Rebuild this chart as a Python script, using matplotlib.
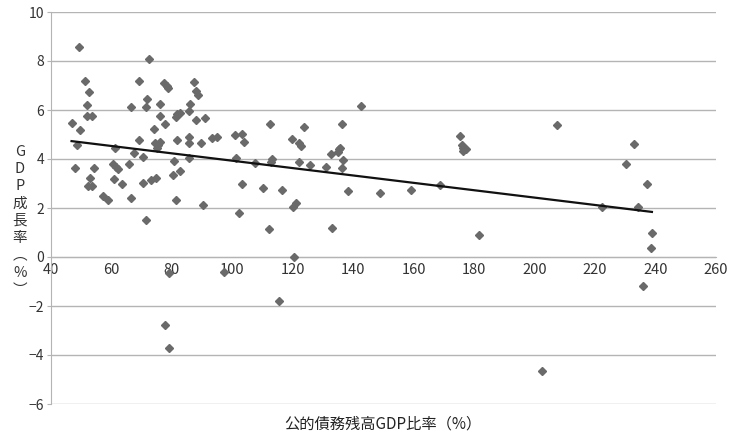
import numpy as np
import matplotlib
matplotlib.use("Agg")
import matplotlib.pyplot as plt

plt.rcParams['font.family'] = ['Noto Sans CJK JP', 'DejaVu Sans']

# debt-to-GDP ratio (%) and GDP growth (%)
debt = [
    49.4, 46.8, 49.5, 48.5, 47.8, 51.1, 52.7, 51.9, 52.0, 53.6,
    54.2, 52.9, 52.3, 53.4, 57.1, 58.9, 61.1, 60.4, 61.5, 62.2,
    60.7, 63.5, 65.7, 66.5, 67.4, 66.4, 69.0, 69.2, 70.6, 70.3,
    71.5, 71.9, 71.4, 72.3, 73.2, 74.7, 74.2, 74.4, 75.5, 75.0,
    76.0, 76.0, 76.0, 77.6, 77.5, 78.3, 78.7, 80.2, 80.7, 82.7,
    81.4, 81.6, 81.4, 81.8, 82.6, 85.7, 85.7, 85.7, 86.0, 85.5,
    87.3, 88.0, 88.5, 88.0, 89.6, 90.4, 90.9, 93.4, 94.8, 101.0,
    103.3, 103.8, 101.3, 103.2, 102.3, 107.5, 112.4, 113.1, 112.8, 110.2,
    116.5, 112.0, 119.8, 122.1, 122.7, 123.7, 122.1, 125.7, 120.2, 121.0,
    130.9, 132.5, 134.9, 135.4, 135.7, 136.4, 136.7, 136.2, 138.4, 132.8,
    142.6, 148.8, 159.1, 168.8, 175.3, 175.9, 176.4, 176.2, 177.3, 207.3,
    232.9, 230.1, 237.2, 222.2, 234.2, 120.4, 79.1, 97.3, 115.5, 77.8,
    78.9, 181.5, 238.8, 238.4, 235.7, 202.4,
]
growth = [
    8.56, 5.48, 5.18, 4.57, 3.62, 7.18, 6.72, 6.22, 5.76, 5.76,
    3.65, 3.21, 2.91, 2.91, 2.49, 2.33, 4.46, 3.81, 3.69, 3.59,
    3.17, 2.98, 3.81, 6.11, 4.24, 2.42, 4.76, 7.18, 4.09, 3.03,
    1.51, 6.46, 6.12, 8.09, 3.14, 3.21, 5.22, 4.64, 4.56, 4.46,
    4.68, 6.24, 5.76, 5.43, 7.09, 6.98, 6.89, 3.36, 3.91, 3.52,
    2.31, 4.78, 5.70, 5.82, 5.87, 4.91, 4.64, 5.96, 6.26, 4.04,
    7.16, 6.78, 6.61, 5.59, 4.64, 2.11, 5.66, 4.84, 4.90, 4.98,
    5.03, 4.71, 4.05, 2.99, 1.80, 3.82, 5.42, 4.00, 3.87, 2.80,
    2.75, 1.16, 4.83, 4.67, 4.53, 5.31, 3.86, 3.76, 2.05, 2.19,
    3.69, 4.20, 4.30, 4.42, 4.46, 5.43, 3.96, 3.62, 2.69, 1.18,
    6.15, 2.60, 2.73, 2.93, 4.95, 4.57, 4.44, 4.34, 4.40, 5.39,
    4.62, 3.78, 2.99, 2.04, 2.04, -0.01, -0.67, -0.60, -1.81, -2.79,
    -3.73, 0.90, 0.97, 0.38, -1.18, -4.64,
]

# linear trendline as drawn in the chart (end points)
trend_x = [46.8, 238.8]
trend_y = [4.73, 1.84]

fig = plt.figure(figsize=(7.3, 4.37), dpi=100)
ax = fig.add_axes([51 / 730, 33 / 437, 665 / 730, 392 / 437])

grid_c = '#b4b4b4'
ax.set_xlim(40, 260)
ax.set_ylim(-6, 10)
ax.set_yticks(range(-6, 11, 2))
ax.set_xticks(range(40, 261, 20))
ax.yaxis.grid(True, color=grid_c, lw=1)
ax.set_axisbelow(True)

for s in ['top', 'right']:
    ax.spines[s].set_visible(False)
ax.spines['left'].set_color(grid_c)
ax.spines['bottom'].set_position(('data', 0))
ax.spines['bottom'].set_color(grid_c)

ax.tick_params(axis='y', length=3, color=grid_c, labelsize=10,
               labelcolor='#333333', pad=2)
ax.tick_params(axis='x', length=0, labelsize=10.5, labelcolor='#333333', pad=4)

ax.plot(debt, growth, 'D', color='#6a6a6a', ms=4.3, mec='#6a6a6a', zorder=3)
ax.plot(trend_x, trend_y, '-', color='#111111', lw=1.6, zorder=4)

fig.text(383 / 730, 1 - 424 / 437, '公的債務残高GDP比率（%）',
         ha='center', va='center', fontsize=11, color='#222222')
fig.text(20 / 730, 1 - 221 / 437, 'G\nD\nP\n成\n長\n率\n︵\n%\n︶',
         ha='center', va='center', fontsize=10.5, color='#333333',
         linespacing=1.3)

fig.savefig('out.png', dpi=100)
